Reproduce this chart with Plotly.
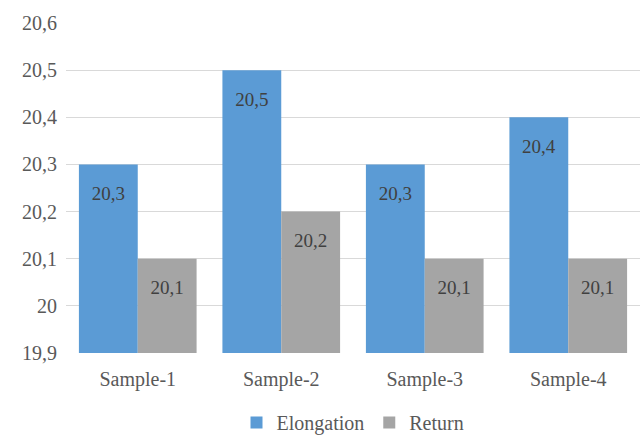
import plotly.graph_objects as go

# Chart data
samples = ["Sample-1", "Sample-2", "Sample-3", "Sample-4"]
elongation = [20.3, 20.5, 20.3, 20.4]
return_vals = [20.1, 20.2, 20.1, 20.1]
y_ticks = [19.9, 20.0, 20.1, 20.2, 20.3, 20.4, 20.5, 20.6]
y_tick_labels = ["19,9", "20", "20,1", "20,2", "20,3", "20,4", "20,5", "20,6"]

font_family = "Times New Roman, Liberation Serif, serif"
# base size sets the height of the blank first line, i.e. the top padding
label_font = dict(family=font_family, size=15, color="#404040")
label_template = " <br><span style='font-size:19px'>%{y:.1f}</span>"

fig = go.Figure()
fig.add_trace(go.Bar(
    name="Elongation", x=samples, y=elongation,
    marker=dict(color="#5B9BD5", line=dict(width=0)),
    texttemplate=label_template, textposition="inside", insidetextanchor="end",
    textfont=label_font, textangle=0,
))
fig.add_trace(go.Bar(
    name="Return", x=samples, y=return_vals,
    marker=dict(color="#A5A5A5", line=dict(width=0)),
    texttemplate=label_template, textposition="inside", insidetextanchor="end",
    textfont=label_font, textangle=0,
))

fig.update_layout(
    width=640, height=442,
    margin=dict(l=66, r=0, t=23, b=89, autoexpand=False),
    paper_bgcolor="white", plot_bgcolor="white",
    barmode="group", bargap=0.18, bargroupgap=0,
    separators=", ",
    font=dict(family=font_family, size=20, color="#595959"),
    showlegend=True,
    legend=dict(orientation="h", x=0.5, xanchor="center",
                yref="container", y=0.0, yanchor="bottom",
                font=dict(family=font_family, size=20, color="#595959"),
                itemwidth=30, tracegroupgap=0),
    xaxis=dict(showgrid=False, showline=False, ticks="", tickfont=dict(size=20),
               ticklabelstandoff=12),
    yaxis=dict(range=[19.9, 20.6], tickvals=y_ticks, ticktext=y_tick_labels,
               showgrid=True, gridcolor="#D9D9D9", gridwidth=1,
               zeroline=False, showline=False, ticks="", ticklabelstandoff=8,
               tickfont=dict(size=20)),
)

fig.write_html("out.html")
